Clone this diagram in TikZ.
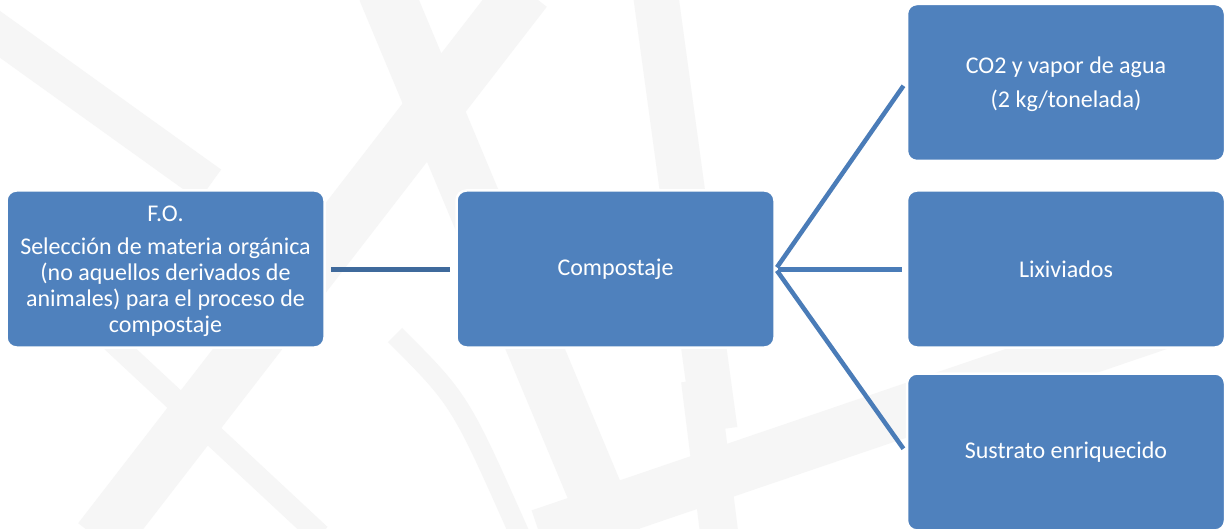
\documentclass[tikz,border=0pt]{standalone}
\usepackage{fontspec}
\setmainfont{Carlito}
\definecolor{boxblue}{HTML}{4F81BD}
\definecolor{linkblue}{HTML}{4A7CB8}
\definecolor{linkdark}{HTML}{3F6A9C}
\definecolor{wm}{HTML}{F6F6F6}
\begin{document}
\begin{tikzpicture}[x=1pt,y=-1pt,
  boxtext/.style={text=white, align=center, inner sep=0pt, font=\fontsize{24}{26}\selectfont},
  box/.style={rectangle, rounded corners=10pt, fill=boxblue, draw=white, line width=2.5pt,
    minimum width=318pt, minimum height=157pt, inner sep=0pt, boxtext},
  conn/.style={line width=5pt, draw=linkblue},
  wmark/.style={line width=#1, draw=wm}]
\fill[white] (0,0) rectangle (1225,529);
\useasboundingbox (0,0) rectangle (1225,529);
\begin{scope}
\clip (0,0) rectangle (1225,529);
\draw[wmark=38pt] (-20,20) -- (210,185);
\draw[wmark=55pt] (525,-10) -- (100,540);
\draw[wmark=55pt] (385,-10) -- (615,540);
\draw[wmark=22pt] (100,330) -- (320,535);
\draw[wmark=20pt] (395,335) .. controls (460,400) .. (520,535);
\draw[wmark=45pt] (655,-10) -- (715,430);
\draw[wmark=38pt] (700,380) -- (720,540);
\draw[wmark=52pt] (540,535) -- (1230,300);
\end{scope}
\node[box] (fo) at (165.5,269) {};
\node[boxtext] (fot) at (165.5,271) {F.O.\\[7pt]Selección de materia orgánica\\(no aquellos derivados de\\animales) para el proceso de\\compostaje};
\node[box] (comp) at (615.5,269) {Compostaje};
\node[box] (co2) at (1066,82.5) {};
\node[boxtext] (co2t) at (1066,84.5) {CO2 y vapor de agua\\[8pt](2 kg/tonelada)};
\node[box] (lix) at (1066,269) {Lixiviados};
\node[box] (sus) at (1066,452) {Sustrato enriquecido};
\draw[conn, draw=linkdark, shorten <=5pt, shorten >=5pt] (fo.east) -- (comp.west);
\draw[conn, line width=4.5pt, shorten <=2pt, shorten >=4pt] (comp.east) -- (co2.west);
\draw[conn, shorten <=2pt, shorten >=4pt] (comp.east) -- (lix.west);
\draw[conn, line width=4.5pt, shorten <=2pt, shorten >=4pt] (comp.east) -- (sus.west);
\end{tikzpicture}
\end{document}
